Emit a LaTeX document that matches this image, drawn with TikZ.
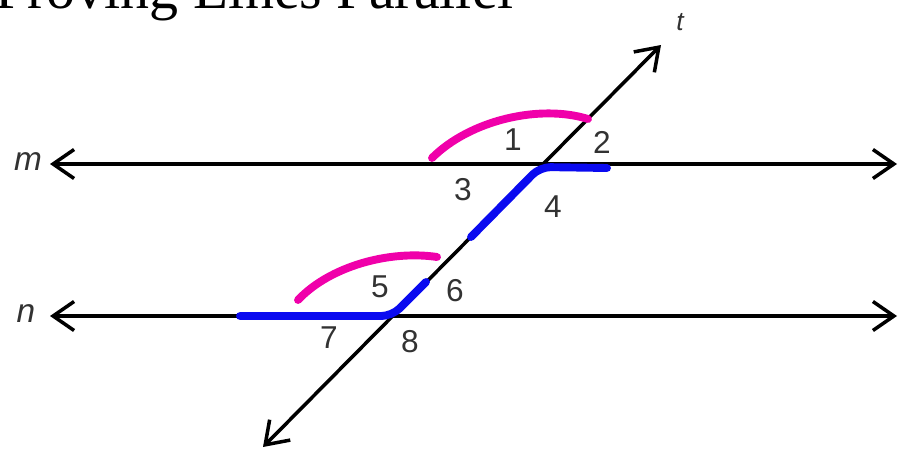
\documentclass[tikz,border=0pt]{standalone}
\usepackage{fontspec}
\setmainfont{Liberation Serif}
\setsansfont{Liberation Sans}
\usetikzlibrary{arrows.meta}
\definecolor{arcpink}{RGB}{240,0,170}
\definecolor{markblue}{RGB}{10,10,240}
\definecolor{numgray}{RGB}{50,50,50}
\begin{document}
\begin{tikzpicture}[x=0.02cm,y=-0.02cm,
  every node/.style={font=\sffamily\fontsize{18}{18}\selectfont,text=numgray,inner sep=0pt},
  lbl/.style={font=\sffamily\itshape\fontsize{19}{19}\selectfont},
  line/.style={line width=2pt,{Straight Barb[length=4.2mm,width=5.8mm]}-{Straight Barb[length=4.2mm,width=5.8mm]}},
  pinkarc/.style={arcpink,line width=4.5pt,line cap=round},
  blueseg/.style={markblue,line width=4.5pt,line cap=round,line join=round,rounded corners=6pt}]
\clip (0,0) rectangle (899,453);
\node[anchor=base west,font=\rmfamily\fontsize{33}{33}\selectfont,text=black] (title) at (-5,9) {Proving Lines Parallel};
\coordinate (mL) at (50,164);
\coordinate (mR) at (897,164);
\coordinate (nL) at (50,316);
\coordinate (nR) at (897,316);
\coordinate (tBot) at (263,447);
\coordinate (tTop) at (661,45);
\draw[line] (mL) -- (mR);
\draw[line] (nL) -- (nR);
\draw[line] (tBot) -- (tTop);
\node[lbl] (lm) at (28,162) {m};
\node[lbl] (ln) at (26,314) {n};
\node[lbl,font=\sffamily\itshape\fontsize{15}{15}\selectfont] (lt) at (680,22) {t};
\node (l1) at (513,140) {1};
\node (l2) at (602,142) {2};
\node (l3) at (463,190) {3};
\node (l4) at (553,207) {4};
\node (l5) at (380,287) {5};
\node (l6) at (455,291) {6};
\node (l7) at (329,338) {7};
\node (l8) at (410,342) {8};
\draw[pinkarc] (432,158) .. controls (470,120) and (540,104) .. (588,119);
\draw[pinkarc] (298,300) .. controls (330,266) and (390,250) .. (437,257);
\draw[blueseg] (471,237) -- (540,167) -- (607,168);
\draw[blueseg] (240,316) -- (392,316) -- (426,282);
\end{tikzpicture}
\end{document}
